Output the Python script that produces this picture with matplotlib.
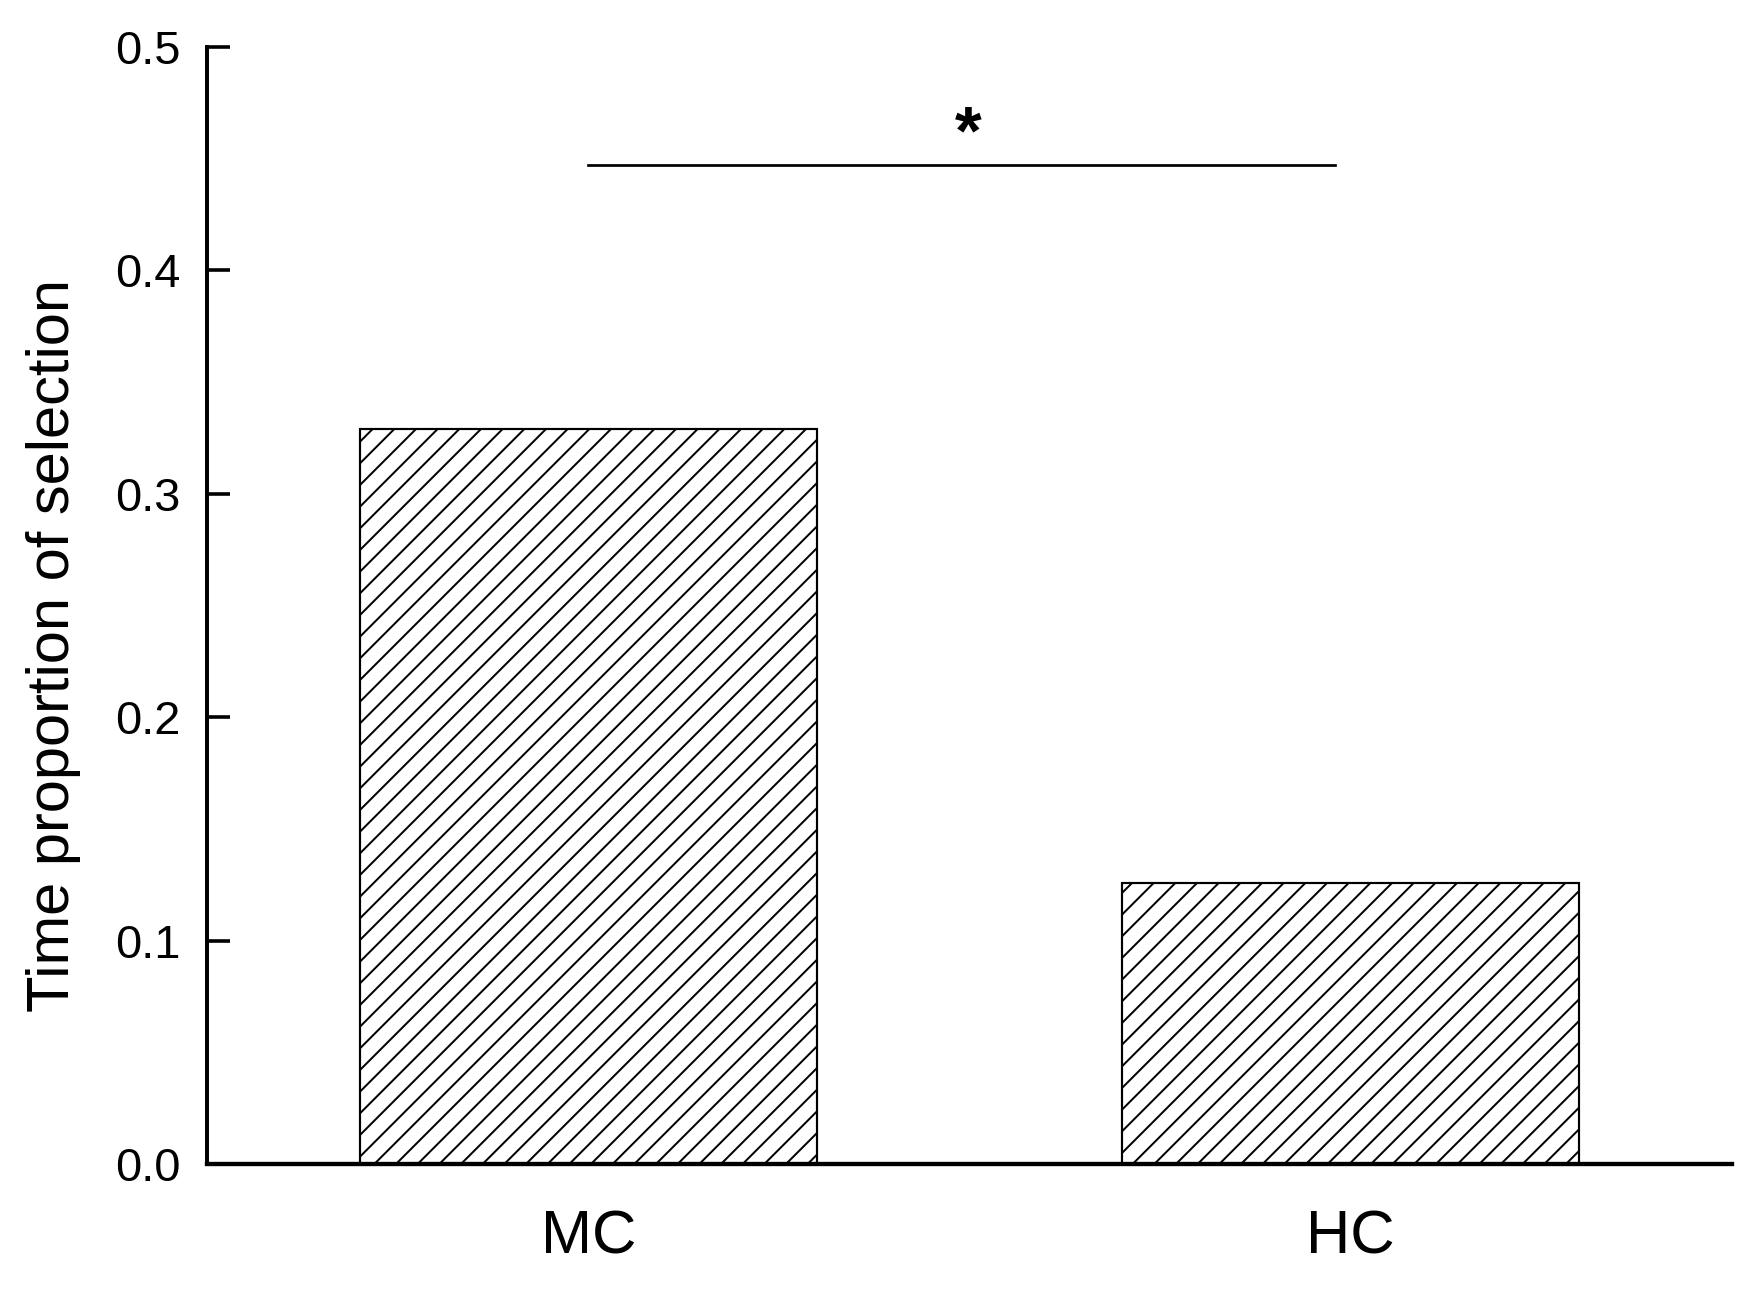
import matplotlib.pyplot as plt

groups = ["MC", "HC"]
proportions = [0.329, 0.126]
sig_pair = (0, 0.98)
sig_height = 0.447
sig_label = "*"

DPI = 130
plt.rcParams["font.family"] = ["Liberation Sans", "DejaVu Sans"]
plt.rcParams["hatch.linewidth"] = 1.1

fig = plt.figure(figsize=(1758 / DPI, 1292 / DPI), dpi=DPI)
ax = fig.add_axes([0.118, 0.099, 0.867, 0.8647])

x = range(len(groups))
ax.bar(x, proportions, width=0.6, color="white", edgecolor="black",
       linewidth=1.2, hatch="//")

ax.plot(sig_pair, [sig_height, sig_height], color="black", linewidth=1.5)
ax.text(sum(sig_pair) / 2 + 0.008, sig_height - 0.001, sig_label, ha="center",
        va="bottom", fontsize=38, fontweight="bold")

ax.set_xlim(-0.5, 1.5)
ax.set_ylim(0, 0.5)
ax.set_xticks(list(x))
ax.set_xticklabels(groups, fontsize=34)
ax.set_yticks([0.0, 0.1, 0.2, 0.3, 0.4, 0.5])
ax.set_yticklabels(["0.0", "0.1", "0.2", "0.3", "0.4", "0.5"], fontsize=26)
ax.tick_params(axis="x", length=0, pad=25)
ax.tick_params(axis="y", direction="in", length=13, width=2, pad=15)
ax.set_ylabel("Time proportion of selection", fontsize=33)
ax.yaxis.set_label_coords(-0.083, 0.464)

ax.spines["top"].set_visible(False)
ax.spines["right"].set_visible(False)
ax.spines["left"].set_linewidth(2.2)
ax.spines["bottom"].set_linewidth(2.4)

fig.savefig("out.png", dpi=DPI)
